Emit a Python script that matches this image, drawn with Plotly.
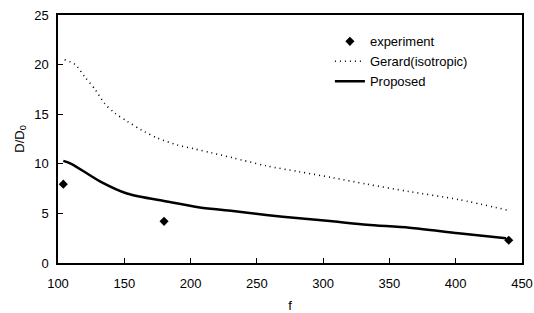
import plotly.graph_objects as go

# Data
exp_f = [104, 180, 440]
exp_d = [7.95, 4.2, 2.3]

gerard_f = [105, 113, 120, 128, 135, 143, 152, 163, 175, 190, 203, 216, 232, 257, 282, 307, 333, 365, 402, 440]
gerard_d = [20.5, 20.0, 18.8, 17.5, 16.1, 15.1, 14.3, 13.4, 12.6, 11.9, 11.5, 11.1, 10.6, 9.8, 9.2, 8.6, 7.95, 7.2, 6.4, 5.3]

prop_f = [104, 110, 132, 152, 182, 207, 232, 257, 282, 307, 333, 365, 402, 438]
prop_d = [10.3, 10.0, 8.2, 7.0, 6.2, 5.6, 5.25, 4.85, 4.5, 4.2, 3.85, 3.55, 3.0, 2.5]

x_ticks = [100, 150, 200, 250, 300, 350, 400, 450]
y_ticks = [0, 5, 10, 15, 20, 25]

FONT = "Arial, Liberation Sans, sans-serif"

fig = go.Figure()
fig.add_trace(go.Scatter(x=exp_f, y=exp_d, mode="markers", name="experiment",
                         marker=dict(symbol="diamond", size=7, color="black")))
fig.add_trace(go.Scatter(x=gerard_f, y=gerard_d, mode="lines", name="Gerard(isotropic)",
                         line=dict(color="black", width=1.6, dash="1px,4px", shape="spline", smoothing=0.8)))
fig.add_trace(go.Scatter(x=prop_f, y=prop_d, mode="lines", name="Proposed",
                         line=dict(color="black", width=2.5, shape="spline", smoothing=0.8)))

axis_common = dict(showgrid=False, zeroline=False, showline=True, linecolor="black",
                   linewidth=1.5, mirror=True, ticks="inside", ticklen=5, automargin=False,
                   tickcolor="black", tickfont=dict(family=FONT, size=13, color="black"))

fig.update_xaxes(range=[100, 450], tickvals=x_ticks, ticklabelstandoff=8,
                 title=dict(text="f", standoff=12, font=dict(family=FONT, size=13, color="black")),
                 **axis_common)
fig.update_yaxes(range=[0, 25], tickvals=y_ticks, ticklabelstandoff=5,
                 title=dict(text="D/D<sub>0</sub>", standoff=7, font=dict(family=FONT, size=13, color="black")),
                 **axis_common)

fig.update_layout(
    width=534, height=313,
    margin=dict(l=58, r=12, t=15, b=50),
    plot_bgcolor="white", paper_bgcolor="white",
    font=dict(family=FONT, size=13, color="black"),
    legend=dict(x=0.586, y=0.954, xanchor="left", yanchor="top", bgcolor="rgba(0,0,0,0)",
                font=dict(family=FONT, size=13), tracegroupgap=0),
    showlegend=True,
)

fig.write_html("out.html", config={"displayModeBar": False},
               post_script="document.body.style.margin='0';")
